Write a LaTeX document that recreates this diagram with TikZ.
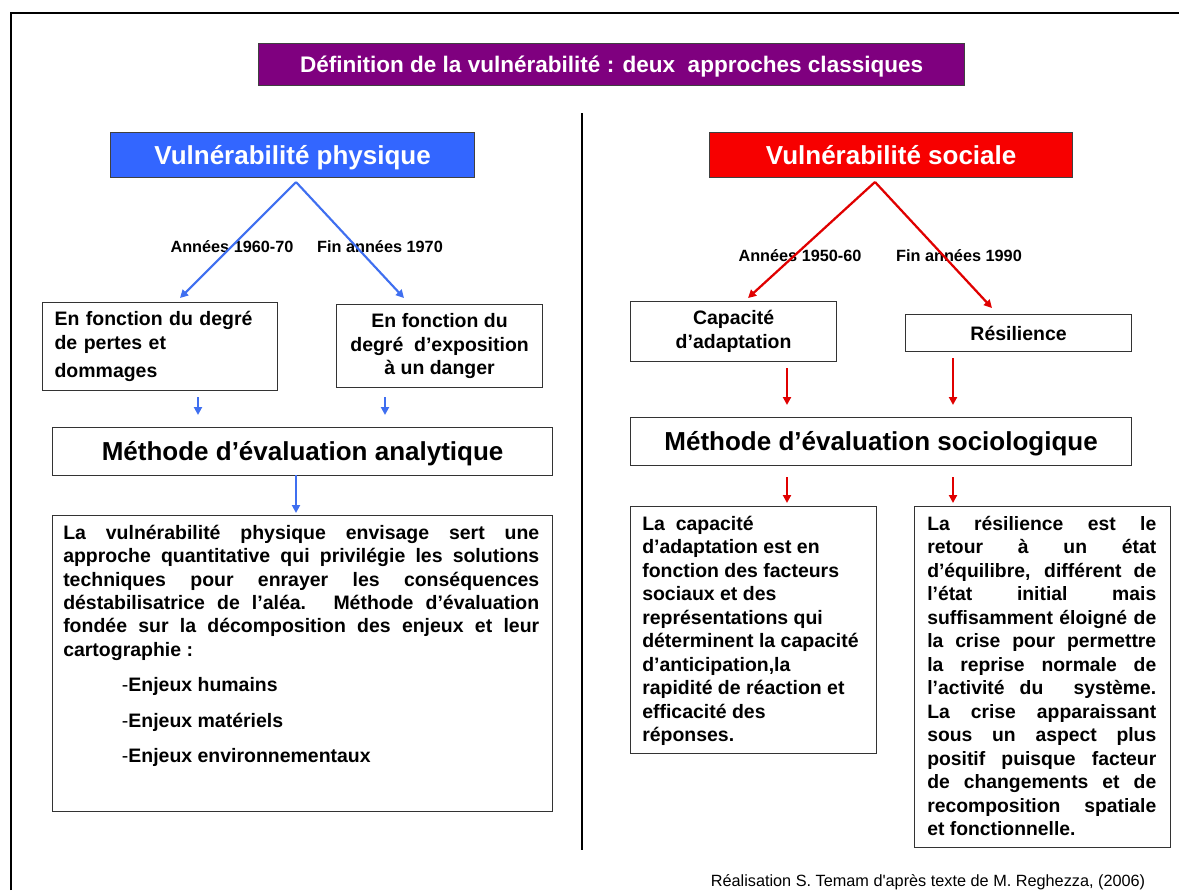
\documentclass[tikz,border=0pt]{standalone}
\usepackage{fontspec}
\setmainfont{Liberation Sans}
\usetikzlibrary{arrows.meta}
\definecolor{purp}{HTML}{7F007F}
\definecolor{bluebox}{HTML}{3366FF}
\definecolor{redbox}{HTML}{F70000}
\definecolor{bluearr}{HTML}{3F6FF0}
\definecolor{redarr}{HTML}{E00000}
\newcommand{\fsz}[2]{\fontsize{#1}{#2}\selectfont}
\begin{document}
\begin{tikzpicture}[x=0.75pt,y=-0.75pt,
  frame/.style={draw=black!80,line width=0.9pt,inner sep=0pt,anchor=north west},
  body/.style={font=\fsz{14.6pt}{17.6pt}\bfseries},
  head/.style={frame,draw=black!75,text=white,font=\fsz{19.5pt}{22pt}\bfseries,
    text height=16pt,text depth=2pt},
  meth/.style={frame,font=\fsz{19.5pt}{22pt}\bfseries,text height=16pt,text depth=2pt},
  lbl/.style={inner sep=0pt,font=\fsz{12.2pt}{14pt}\bfseries},
  txt/.style={inner sep=0pt,anchor=base west},
  barrow/.style={draw=bluearr,line width=1.6pt,-{Triangle[length=6pt,width=6pt]}},
  rarrow/.style={draw=redarr,line width=1.5pt,-{Triangle[length=6pt,width=6pt]}}]
\useasboundingbox (0,0) rectangle (1179,890);
\fill[white] (0,0) rectangle (1179,890);
% outer frame and divider
\draw[line width=1.5pt] (11,890) -- (11,13) -- (1179,13);
\draw[line width=1pt] (582,113) -- (582,850);
% title
\node[frame,draw=black!75,fill=purp,text=white,font=\fsz{16.9pt}{20pt}\bfseries,
  text height=14pt,text depth=2pt,
  minimum width=529.5pt,minimum height=31.5pt] (title) at (258,43)
  {Définition de la vulnérabilité : deux~ approches classiques};
% left column
\node[head,fill=bluebox,minimum width=273pt,minimum height=33.75pt] (phys) at (110,132)
  {Vulnérabilité physique};
\node[frame,body,minimum width=176.25pt,minimum height=66pt,text width=158.25pt,
  inner xsep=9pt,align=left] (b1) at (42,302)
  {En fonction du degré\\ de pertes et\\[4pt] dommages};
\node[frame,body,minimum width=154.5pt,minimum height=62.25pt,align=center] (b2) at (336,304)
  {En fonction du\\ degré~ d’exposition\\ à un danger};
\node[meth,minimum width=375pt,minimum height=36pt] (m1) at (52,427)
  {Méthode d’évaluation analytique};
\node[frame,minimum width=375pt,minimum height=222pt] (big) at (52,515) {};
\node[txt] (bigt) at (63,539.5) {\parbox[t]{357pt}{\fsz{14.6pt}{17.5pt}\bfseries
La vulnérabilité physique envisage sert une\linebreak
approche quantitative qui privilégie les solutions\linebreak
techniques pour enrayer les conséquences\linebreak
déstabilisatrice de l’aléa. Méthode d’évaluation\linebreak
fondée sur la décomposition des enjeux et leur\linebreak
cartographie :\par
\fsz{14.6pt}{26.6pt}\bfseries
\hspace*{44pt}{\mdseries -}Enjeux humains\par
\hspace*{44pt}{\mdseries -}Enjeux matériels\par
\hspace*{44pt}{\mdseries -}Enjeux environnementaux}};
% left labels
\node[lbl] (l1) at (232,247) {Années 1960-70};
\node[lbl] (l2) at (380,247) {Fin années 1970};
% left arrows
\coordinate (pA) at (296,182);
\coordinate (pL) at (180,298);
\coordinate (pR) at (404,298);
\draw[barrow] (pA) -- (pL);
\draw[barrow] (pA) -- (pR);
\coordinate (s1a) at (198,397); \coordinate (s1b) at (198,415);
\coordinate (s2a) at (385,397); \coordinate (s2b) at (385,415);
\draw[barrow,line width=1.5pt] (s1a) -- (s1b);
\draw[barrow,line width=1.5pt] (s2a) -- (s2b);
\coordinate (s3a) at (296,475); \coordinate (s3b) at (296,513);
\draw[barrow,line width=1.5pt] (s3a) -- (s3b);
% right column
\node[head,fill=redbox,minimum width=272.25pt,minimum height=33.75pt] (soc) at (709,132)
  {Vulnérabilité sociale};
\node[frame,body,minimum width=154.5pt,minimum height=45pt,align=center] (cap) at (630,301)
  {Capacité\\ d’adaptation};
\node[frame,body,minimum width=169.5pt,minimum height=27.75pt] (res) at (905,314)
  {Résilience};
\node[meth,minimum width=375.75pt,minimum height=36pt] (m2) at (630,417)
  {Méthode d’évaluation sociologique};
\node[frame,minimum width=184.5pt,minimum height=185.25pt] (capb) at (630,506) {};
\node[txt] (capt) at (642,530.5) {\parbox[t]{170pt}{\raggedright\fsz{14.6pt}{17.6pt}\bfseries
La~ capacité\\
d’adaptation est en\\
fonction des facteurs\\
sociaux et des\\
représentations qui\\
déterminent la capacité\\
d’anticipation,la\\
rapidité de réaction et\\
efficacité des\\
réponses.}};
\node[frame,minimum width=192pt,minimum height=255.75pt] (resb) at (914,506) {};
\node[txt] (rest) at (927,530.5) {\parbox[t]{171.75pt}{\fsz{14.5pt}{17.6pt}\bfseries
La résilience est le\linebreak
retour à un état\linebreak
d’équilibre, différent de\linebreak
l’état initial mais\linebreak
suffisamment éloigné de\linebreak
la crise pour permettre\linebreak
la reprise normale de\linebreak
l’activité du~ système.\linebreak
La crise apparaissant\linebreak
sous un aspect plus\linebreak
positif puisque facteur\linebreak
de changements et de\linebreak
recomposition spatiale\linebreak
et fonctionnelle.}};
% right labels
\node[lbl] (l3) at (800,256) {Années 1950-60};
\node[lbl] (l4) at (959,256) {Fin années 1990};
% right arrows
\coordinate (qA) at (875,182);
\coordinate (qL) at (748,298);
\coordinate (qR) at (992,308);
\draw[rarrow,line width=1.7pt] (qA) -- (qL);
\draw[rarrow,line width=1.7pt] (qA) -- (qR);
\coordinate (r1a) at (787,368); \coordinate (r1b) at (787,405);
\coordinate (r2a) at (953,358); \coordinate (r2b) at (953,405);
\coordinate (r3a) at (787,477); \coordinate (r3b) at (787,503);
\coordinate (r4a) at (953,477); \coordinate (r4b) at (953,503);
\draw[rarrow] (r1a) -- (r1b);
\draw[rarrow] (r2a) -- (r2b);
\draw[rarrow] (r3a) -- (r3b);
\draw[rarrow] (r4a) -- (r4b);
% footer
\node[inner sep=0pt,font=\fsz{12.2pt}{14pt}] (foot) at (928,882)
  {Réalisation S. Temam d\textquotesingle après texte de M. Reghezza, (2006)};
\end{tikzpicture}
\end{document}
